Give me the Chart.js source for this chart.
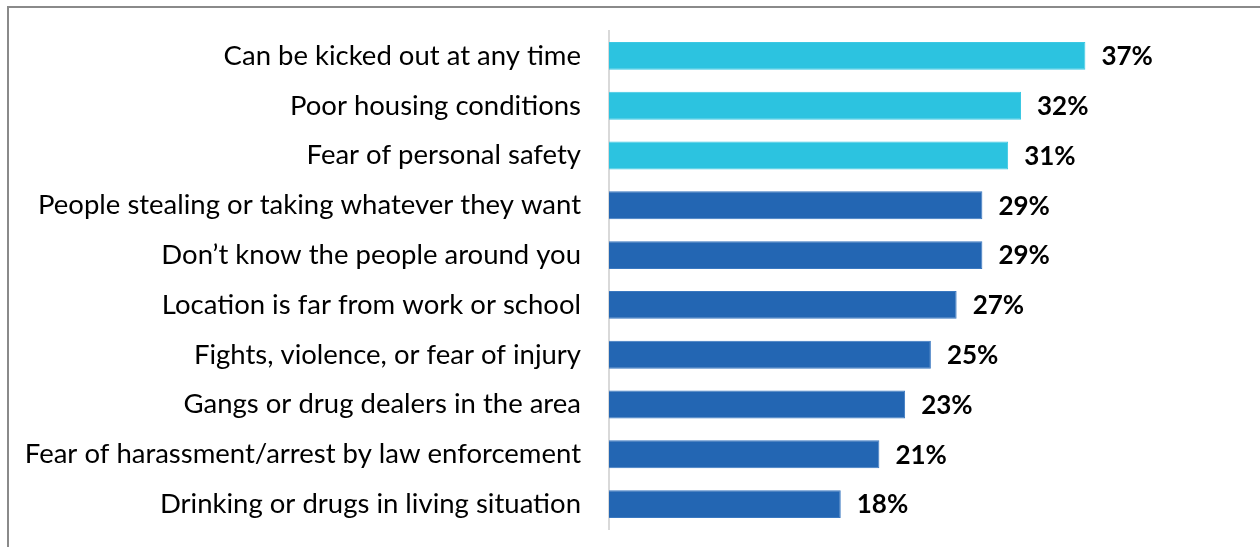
<!DOCTYPE html>
<html>
<head>
<meta charset="utf-8">
<script src="https://cdn.jsdelivr.net/npm/chart.js@4.4.1/dist/chart.umd.min.js"></script>
<style>
  html, body { margin: 0; padding: 0; background: #ffffff; }
  #wrap { position: relative; width: 1260px; height: 547px; overflow: hidden; }
  #frame {
    position: absolute; left: 7px; top: 6px; width: 1300px; height: 600px;
    border-left: 2px solid #8a8a8a; border-top: 2px solid #8a8a8a;
    box-sizing: border-box; pointer-events: none;
  }
  canvas { position: absolute; left: 0; top: 0; }
</style>
</head>
<body>
<div id="wrap">
  <canvas id="chart" width="1260" height="547"></canvas>
  <div id="frame"></div>
</div>
<script>
// Reasons given, share of respondents (%)
const categories = [
  'Can be kicked out at any time',
  'Poor housing conditions',
  'Fear of personal safety',
  'People stealing or taking whatever they want',
  'Don\u2019t know the people around you',
  'Location is far from work or school',
  'Fights, violence, or fear of injury',
  'Gangs or drug dealers in the area',
  'Fear of harassment/arrest by law enforcement',
  'Drinking or drugs in living situation'
];
const values = [37, 32, 31, 29, 29, 27, 25, 23, 21, 18];
// Top three reasons are highlighted
const highlighted = [true, true, true, false, false, false, false, false, false, false];

const CYAN = '#2cc3e0';
const BLUE = '#2366b3';

// Draws the bold percentage just past the end of each bar
const valueLabels = {
  id: 'valueLabels',
  afterDatasetsDraw(chart) {
    const ctx = chart.ctx;
    const meta = chart.getDatasetMeta(0);
    ctx.save();
    ctx.font = 'bold 26px Lato, "DejaVu Sans", sans-serif';
    ctx.fillStyle = '#000000';
    ctx.textAlign = 'left';
    ctx.textBaseline = 'middle';
    meta.data.forEach((bar, i) => {
      ctx.fillText(values[i] + '%', bar.x + 16, bar.y + 1);
    });
    ctx.restore();
  }
};

new Chart(document.getElementById('chart'), {
  type: 'bar',
  data: {
    labels: categories,
    datasets: [{
      data: values,
      backgroundColor: highlighted.map(h => h ? CYAN : BLUE),
      borderColor: highlighted.map(h => h ? '#3cc8e3' : '#3a78c0'),
      borderWidth: 1,
      categoryPercentage: 1,
      barPercentage: 0.56
    }]
  },
  options: {
    indexAxis: 'y',
    responsive: false,
    animation: false,
    events: [],
    layout: { padding: { top: 31, bottom: 18, left: 0, right: 136 } },
    plugins: {
      legend: { display: false },
      tooltip: { enabled: false },
      title: { display: false }
    },
    scales: {
      x: {
        display: false,
        min: 0,
        max: 40
      },
      y: {
        afterFit(scale) { scale.width = 609; },
        // invisible tick marks only set the gap between labels and axis line
        grid: { display: true, drawOnChartArea: false, drawTicks: true, tickLength: 28, color: 'rgba(0,0,0,0)' },
        border: { display: true, color: '#d9d9d9', width: 2 },
        ticks: {
          color: '#000000',
          padding: 0,
          font: { family: 'Lato, "DejaVu Sans", sans-serif', size: 27.5 }
        }
      }
    }
  },
  plugins: [valueLabels]
});
</script>
</body>
</html>
